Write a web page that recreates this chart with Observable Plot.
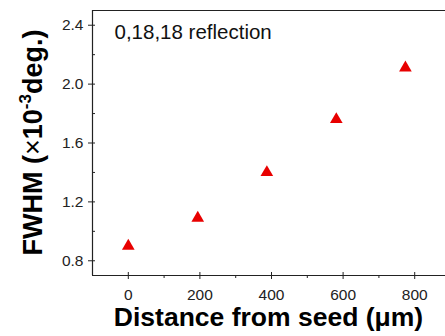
<!DOCTYPE html>
<html>
<head>
<meta charset="utf-8">
<script src="https://cdn.jsdelivr.net/npm/d3@7"></script>
<script src="https://cdn.jsdelivr.net/npm/@observablehq/plot@0.6"></script>
<style>
  html, body { margin: 0; padding: 0; background: #fff; overflow: hidden; }
  svg { display: block; }
</style>
</head>
<body>
<div id="chart"></div>
<script>
const distance = [0, 194, 387, 581, 774];
const fwhm = [0.90, 1.09, 1.40, 1.76, 2.11];
const xMajor = [0, 200, 400, 600, 800];
const xMinor = [100, 300, 500, 700];
const yMajor = [0.8, 1.2, 1.6, 2.0, 2.4];
const yMinor = [1.0, 1.4, 1.8, 2.2];
const annotation = "0,18,18 reflection";
const xLabel = "Distance from seed (μm)";

const data = distance.map((d, i) => ({distance: d, fwhm: fwhm[i]}));
const ink = "#222";

const plot = Plot.plot({
  width: 445,
  height: 336,
  marginLeft: 92,
  marginRight: 0,
  marginTop: 10,
  marginBottom: 61,
  style: {fontFamily: "Liberation Sans, Arial, sans-serif", color: ink, background: "#fff"},
  x: {domain: [-100, 886], axis: null},
  y: {domain: [0.7, 2.5], axis: null},
  marks: [
    Plot.ruleX([-100], {stroke: ink, strokeWidth: 1.2}),
    Plot.ruleY([0.7, 2.5], {stroke: ink, strokeWidth: 1.2}),
    Plot.axisY(yMajor, {anchor: "left", label: null, tickSize: 7, dx: 3, tickPadding: 5, fontSize: 15.5, tickFormat: d3.format(".1f"), stroke: ink, fill: ink}),
    Plot.axisY(yMinor, {anchor: "left", label: null, tickSize: 3, dx: 3, text: null, stroke: ink}),
    Plot.axisX(xMajor, {anchor: "bottom", label: null, tickSize: 7, dy: -3, tickPadding: 9, fontSize: 15.5, stroke: ink, fill: ink}),
    Plot.axisX(xMinor, {anchor: "bottom", label: null, tickSize: 3, text: null, stroke: ink}),
    Plot.dot(data, {x: "distance", y: "fwhm", symbol: "triangle", r: 4.7, fill: "#e80000", stroke: "none"}),
    Plot.text([annotation], {frameAnchor: "top-left", textAnchor: "start", lineAnchor: "top", dx: 22, dy: 14, fontSize: 20.5, fill: "#111"})
  ]
});

const svg = d3.select(plot);
const xr = plot.scale("x").range;
const yr = plot.scale("y").range;
const cx = (xr[0] + xr[1]) / 2;
const cy = (yr[0] + yr[1]) / 2;

svg.append("text")
  .attr("x", cx)
  .attr("y", 326)
  .attr("text-anchor", "middle")
  .attr("font-family", "Liberation Sans, Arial, sans-serif")
  .attr("font-weight", "bold")
  .attr("font-size", 26.5)
  .attr("fill", "#000")
  .text(xLabel);

const yl = svg.append("text")
  .attr("transform", `translate(42,${cy}) rotate(-90)`)
  .attr("text-anchor", "middle")
  .attr("font-family", "Liberation Sans, Arial, sans-serif")
  .attr("font-weight", "bold")
  .attr("font-size", 27)
  .attr("fill", "#000");
yl.append("tspan").text("FWHM (");
yl.append("tspan").attr("font-weight", "normal").text("×");
yl.append("tspan").text("10");
yl.append("tspan").attr("font-size", 17).attr("dy", -11).text("-3");
yl.append("tspan").attr("dy", 11).text("deg.)");

document.getElementById("chart").appendChild(plot);
</script>
</body>
</html>
